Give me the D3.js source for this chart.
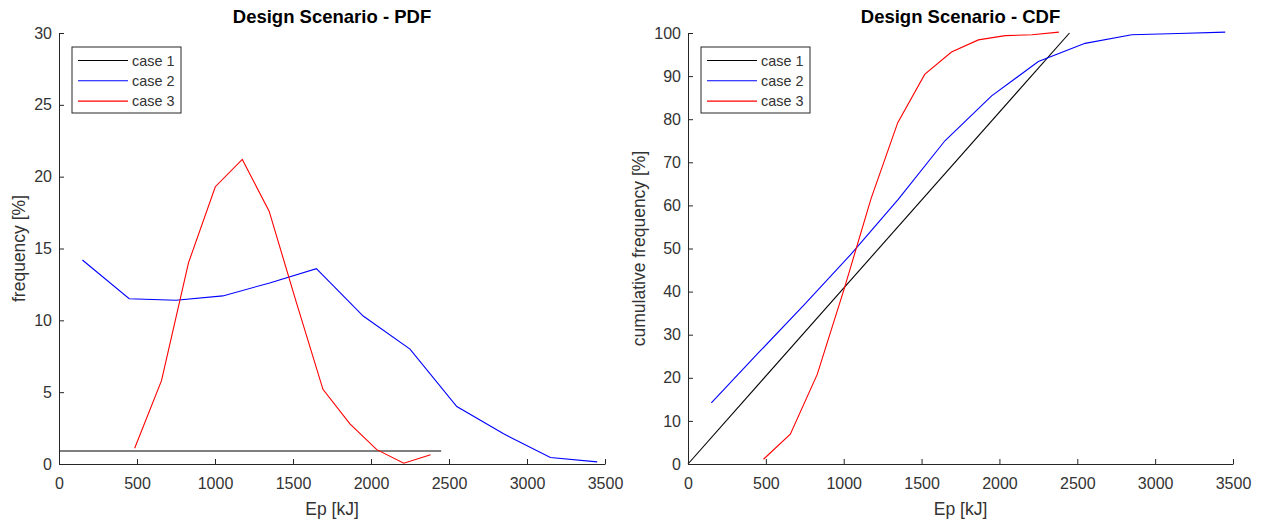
<!DOCTYPE html>
<html>
<head>
<meta charset="utf-8">
<script src="https://cdn.jsdelivr.net/npm/d3@7"></script>
<style>
  html, body { margin: 0; padding: 0; background: #fff; }
  svg { display: block; font-family: "Liberation Sans", Arial, Helvetica, sans-serif; }
</style>
</head>
<body>
<svg id="chart" width="1265" height="520"></svg>
<script>
// ---------- data ----------
const seriesNames = ["case 1", "case 2", "case 3"];
const seriesColors = ["#000000", "#0000ff", "#ff0000"];

// PDF (frequency %)
const case1PdfX = [0, 2450];
const case1PdfY = [0.9, 0.9];
const case2X = [150, 450, 750, 1050, 1350, 1650, 1950, 2250, 2550, 2850, 3150, 3450];
const case2PdfY = [14.2, 11.5, 11.4, 11.7, 12.6, 13.6, 10.3, 8.0, 4.0, 2.1, 0.45, 0.15];
const case3X = [485, 657, 830, 1002, 1175, 1347, 1520, 1692, 1865, 2037, 2210, 2382];
const case3PdfY = [1.1, 5.8, 14.0, 19.3, 21.2, 17.6, 11.3, 5.2, 2.8, 1.0, 0.05, 0.65];

// CDF (cumulative frequency %)
const case1CdfX = [0, 2450];
const case1CdfY = [0, 100];
const case2CdfY = [14.2, 25.7, 37.1, 48.8, 61.4, 75.0, 85.4, 93.4, 97.6, 99.6, 99.9, 100.2];
const case3CdfY = [1.1, 6.9, 20.8, 40.5, 61.5, 79.2, 90.4, 95.6, 98.4, 99.4, 99.6, 100.2];

const xTicks = [0, 500, 1000, 1500, 2000, 2500, 3000, 3500];
const pdfYTicks = [0, 5, 10, 15, 20, 25, 30];
const cdfYTicks = [0, 10, 20, 30, 40, 50, 60, 70, 80, 90, 100];

// ---------- drawing ----------
const svg = d3.select("#chart");
const axisColor = "#262626";
const labelColor = "#333333";

function zip(xs, ys) { return xs.map((x, i) => [x, ys[i]]); }

function panel(cfg) {
  const x = d3.scaleLinear().domain([0, 3500]).range([cfg.x0, cfg.x1]);
  const y = d3.scaleLinear().domain(cfg.yDomain).range([464, 33]);
  const g = svg.append("g");

  const line = d3.line().x(d => x(d[0])).y(d => y(d[1]));
  cfg.series.forEach((s, i) => {
    g.append("path")
      .attr("d", line(s))
      .attr("fill", "none")
      .attr("stroke", seriesColors[i])
      .attr("stroke-width", 1.1);
  });

  const xa = g.append("g")
    .attr("transform", "translate(0,464)")
    .call(d3.axisBottom(x).tickValues(xTicks).tickSizeInner(-5).tickSizeOuter(0).tickPadding(14).tickFormat(d3.format("d")));
  const ya = g.append("g")
    .attr("transform", `translate(${cfg.x0},0)`)
    .call(d3.axisLeft(y).tickValues(cfg.yTicks).tickSizeInner(-5).tickSizeOuter(0).tickPadding(7).tickFormat(d3.format("d")));
  [xa, ya].forEach(a => {
    a.select(".domain").attr("stroke", axisColor).attr("stroke-width", 1);
    a.selectAll(".tick line").attr("stroke", axisColor);
    a.selectAll(".tick text").attr("fill", labelColor).style("font-size", "16px");
    a.attr("font-family", null);
  });

  const cx = (cfg.x0 + cfg.x1) / 2;
  g.append("text").attr("x", cx).attr("y", 23).attr("text-anchor", "middle")
    .style("font-size", "18.5px").style("font-weight", "bold").attr("fill", "#000")
    .text(cfg.title);
  g.append("text").attr("x", cx).attr("y", 515).attr("text-anchor", "middle")
    .style("font-size", "17.5px").attr("fill", labelColor).text("Ep [kJ]");
  g.append("text")
    .attr("transform", `translate(${cfg.ylabX},248.5) rotate(-90)`)
    .attr("text-anchor", "middle")
    .style("font-size", "17.5px").attr("fill", labelColor).text(cfg.ylabel);

  // legend
  const lg = g.append("g");
  const lx = cfg.x0 + 13;
  lg.append("rect").attr("x", lx).attr("y", 47).attr("width", 109).attr("height", 66)
    .attr("fill", "#fff").attr("stroke", axisColor).attr("stroke-width", 1);
  seriesNames.forEach((n, i) => {
    const ry = 60.5 + i * 20.3;
    lg.append("line").attr("x1", lx + 6).attr("x2", lx + 56).attr("y1", ry).attr("y2", ry)
      .attr("stroke", seriesColors[i]).attr("stroke-width", 1.1);
    lg.append("text").attr("x", lx + 60).attr("y", ry + 5)
      .style("font-size", "14.4px").attr("fill", labelColor).text(n);
  });
}

panel({
  x0: 59, x1: 605, yDomain: [0, 30], yTicks: pdfYTicks,
  title: "Design Scenario - PDF", ylabel: "frequency [%]", ylabX: 25,
  series: [zip(case1PdfX, case1PdfY), zip(case2X, case2PdfY), zip(case3X, case3PdfY)]
});
panel({
  x0: 688, x1: 1233, yDomain: [0, 100], yTicks: cdfYTicks,
  title: "Design Scenario - CDF", ylabel: "cumulative frequency [%]", ylabX: 645,
  series: [zip(case1CdfX, case1CdfY), zip(case2X, case2CdfY), zip(case3X, case3CdfY)]
});
</script>
</body>
</html>
